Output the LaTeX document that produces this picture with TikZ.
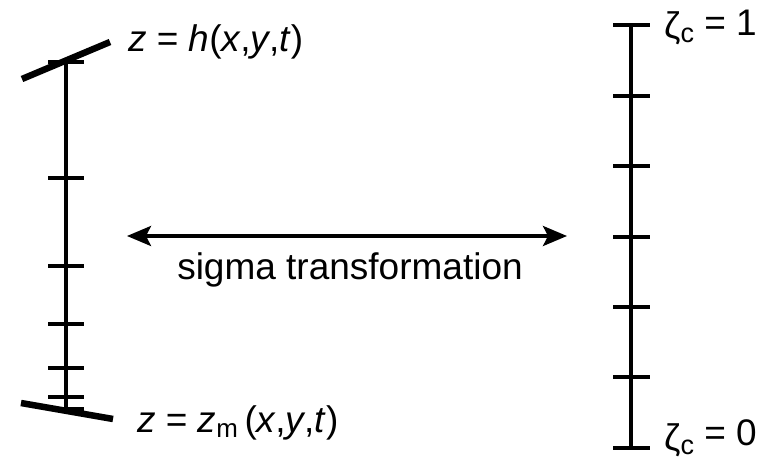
\documentclass[tikz,border=0pt]{standalone}
\usepackage{fontspec}
\setmainfont{Liberation Sans}
\usetikzlibrary{arrows.meta, positioning}

\newcommand{\zetac}{ζ\raisebox{-4bp}{\fontsize{27bp}{30bp}\selectfont c}}

\begin{document}
\begin{tikzpicture}[x=1bp, y=-1bp,
    axis/.style={line width=3.4bp},
    surface/.style={line width=6.5bp},
    txt/.style={inner sep=0pt, font=\fontsize{37bp}{44bp}\selectfont},
    lbl/.style={txt, anchor=base west},
    >={Stealth[length=24bp, width=20bp, inset=5bp]}
  ]
  \useasboundingbox (0,0) rectangle (778,464);

  % physical column, stretched grid
  \coordinate (ztop) at (66,60);
  \coordinate (zbot) at (66,410);
  \draw[axis] (ztop) -- (zbot);
  \foreach \y in {62,178,266,324,368,397,409}
    \draw[axis] (48,\y) -- (84,\y);
  \draw[surface] (22,79) -- (110,42);
  \draw[surface] (21,403) -- (113,419);
  \node[lbl] (surf) at (128,52)
    {\textit{z} = \textit{h}(\textit{x},\textit{y},\textit{t})};
  \node[lbl] (bed) at (137,432)
    {\textit{z} = \textit{z}\textsubscript{m}\,(\textit{x},\textit{y},\textit{t})};

  % computational column, even grid
  \coordinate (ctop) at (631,25);
  \coordinate (cbot) at (631,448);
  \draw[axis] (ctop) -- (cbot);
  \foreach \y in {25,96,166,237,307,377,448}
    \draw[axis] (613,\y) -- (650,\y);
  \node[lbl] (zetaone) at (664,36) {\raisebox{-3bp}{\zetac} = 1};
  \node[lbl] (zetazero) at (664,445) {\raisebox{-5bp}{\zetac} = 0};

  % mapping between the two
  \coordinate (aleft) at (127,236);
  \coordinate (aright) at (567,236);
  \draw[<->, line width=3.4bp] (aleft) -- (aright)
    node[txt, midway, below=15bp, xshift=3bp] (sigma) {sigma transformation};
\end{tikzpicture}
\end{document}
